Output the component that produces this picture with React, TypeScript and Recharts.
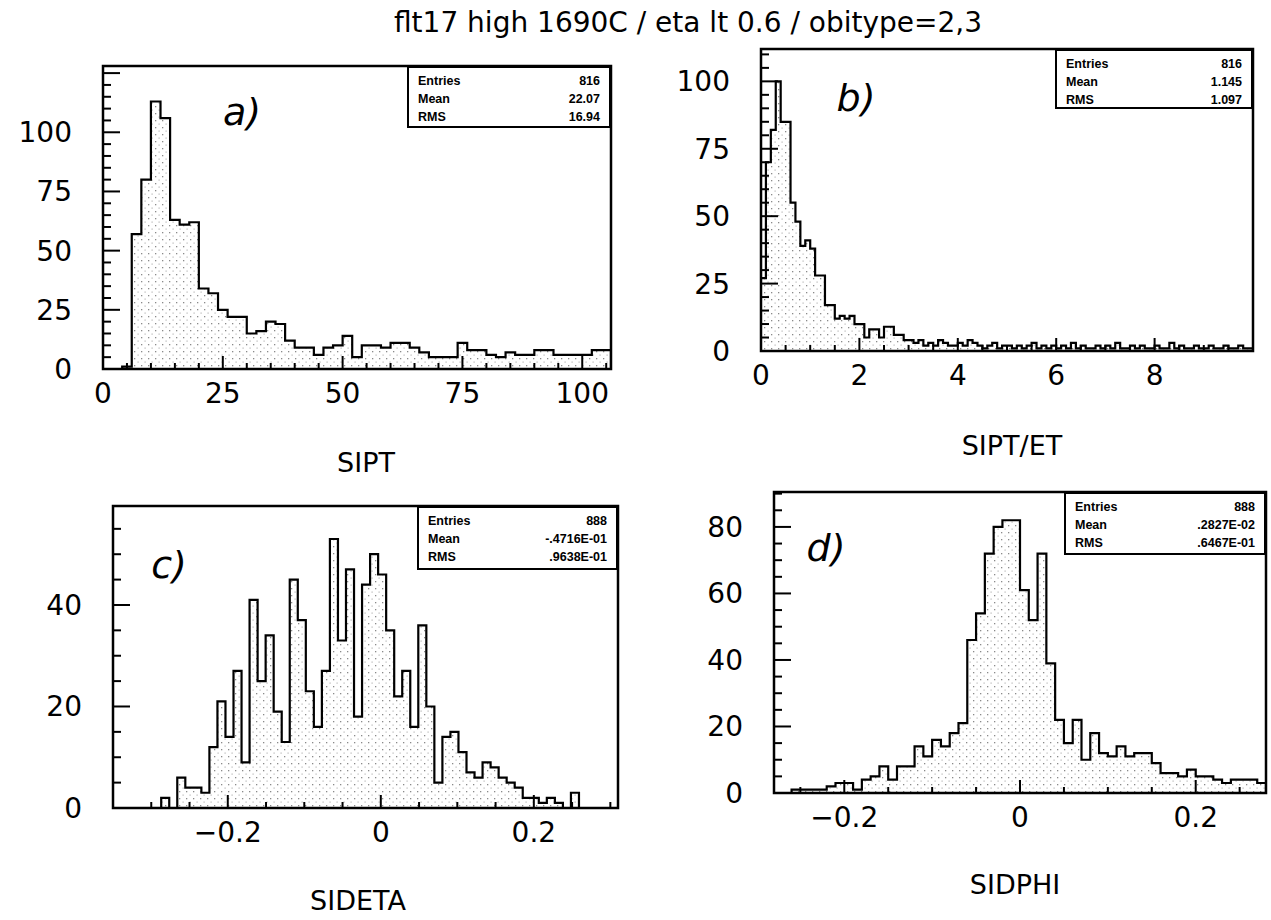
import React from "react";
import { AreaChart, Area, XAxis, YAxis, ReferenceArea } from "recharts";

const FONT = "'DejaVu Sans', sans-serif";
const TITLE = "flt17 high 1690C / eta lt 0.6 / obitype=2,3";

// a) SIPT, bins of width 2 starting at 0
const siptCounts = [
  0, 0, 1, 57, 80, 113, 106, 63, 61, 62, 34, 32, 25, 22, 22, 15, 16, 20, 19, 12,
  9, 9, 6, 9, 10, 14, 5, 10, 10, 9, 11, 11, 9, 7, 5, 5, 5, 11, 8, 8,
  6, 5, 7, 6, 6, 8, 8, 6, 6, 6, 6, 8, 8,
];
// b) SIPT/ET, bins of width 0.1 starting at 0
const siptEtCounts = [
  27, 70, 82, 100, 85, 85, 55, 48, 39, 41, 38, 28, 28, 17, 17, 12, 13, 12, 13, 10,
  10, 5, 8, 8, 5, 9, 9, 6, 6, 4, 4, 3, 4, 2, 3, 2, 4, 3, 2, 2,
  3, 2, 4, 3, 2, 1, 2, 3, 1, 2, 2, 1, 2, 1, 2, 3, 1, 2, 1, 2,
  1, 2, 1, 3, 1, 2, 1, 1, 2, 1, 2, 1, 3, 1, 1, 2, 1, 2, 1, 1,
  2, 1, 1, 3, 1, 2, 1, 1, 2, 1, 1, 2, 1, 1, 2, 1, 1, 2, 1, 1,
];
// c) SIDETA, bins of width 0.0105 starting at -0.35
const sidetaCounts = [
  0, 0, 0, 0, 0, 0, 2, 0, 6, 4, 4, 3, 12, 21, 14, 27, 9, 41, 25, 34,
  19, 13, 45, 37, 23, 16, 27, 53, 33, 47, 18, 44, 50, 46, 35, 22, 27, 16, 36, 20,
  5, 14, 15, 11, 7, 6, 9, 8, 6, 5, 4, 2, 2, 1, 2, 1, 0, 3,
];
// d) SIDPHI, bins of width 0.01 starting at -0.28
const sidphiCounts = [
  0, 0, 1, 1, 1, 1, 2, 3, 3, 1, 4, 5, 8, 4, 8, 8, 14, 11, 16, 14,
  18, 21, 46, 54, 72, 80, 82, 82, 61, 52, 72, 39, 22, 15, 22, 10, 18, 12, 11, 14,
  11, 12, 12, 9, 6, 6, 5, 7, 5, 5, 4, 3, 4, 4, 4, 3,
];

const statsA = [["Entries", "816"], ["Mean", "22.07"], ["RMS", "16.94"]];
const statsB = [["Entries", "816"], ["Mean", "1.145"], ["RMS", "1.097"]];
const statsC = [["Entries", "888"], ["Mean", "-.4716E-01"], ["RMS", ".9638E-01"]];
const statsD = [["Entries", "888"], ["Mean", ".2827E-02"], ["RMS", ".6467E-01"]];

const labelsA = { x: [0, 25, 50, 75, 100], y: [0, 25, 50, 75, 100] };
const labelsB = { x: [0, 2, 4, 6, 8], y: [0, 25, 50, 75, 100] };
const labelsC = { x: [-0.2, 0, 0.2], y: [0, 20, 40] };
const labelsD = { x: [-0.2, 0, 0.2], y: [0, 20, 40, 60, 80] };

const range = (a: number, b: number, s: number) => {
  const out: number[] = [];
  for (let i = 0; a + i * s <= b + 1e-9; i++) out.push(Math.round((a + i * s) * 10000) / 10000);
  return out;
};

const toSteps = (vals: number[], start: number, width: number) => {
  const pts = vals.map((v, i) => ({ x: +(start + i * width).toFixed(5), y: v }));
  pts.push({ x: +(start + vals.length * width).toFixed(5), y: 0 });
  return pts;
};

const has = (arr: number[], v: number) => arr.some((a) => Math.abs(a - v) < 1e-6);
const fmt = (v: number) => (Math.abs(v) < 1e-9 ? "0" : v < 0 ? "\u2212" + Math.abs(v) : String(v));

const YW = 110; // room left of the frame for the y labels

type PanelProps = {
  id: string;
  L: number; T: number; R: number; B: number;
  xDomain: [number, number];
  yMax: number;
  data: { x: number; y: number }[];
  xTicks: number[]; xMajor: number[]; xLabels: number[];
  yTicks: number[]; yMajor: number[]; yLabels: number[];
  stats: string[][];
  box: { left: number; width: number; height: number };
  letter: { text: string; x: number; y: number };
  axisTitle: { text: string; x: number; y: number };
};

const Panel = (p: PanelProps) => {
  const W = p.R - p.L + YW + 10;
  const H = p.B - p.T + 60;

  const xTick = (props: any) => {
    const { x, y, payload } = props;
    const v = payload.value;
    const len = has(p.xMajor, v) ? 13 : 6;
    return (
      <g>
        <line x1={x} y1={y} x2={x} y2={y - len} stroke="#000" strokeWidth={2} />
        {has(p.xLabels, v) && (
          <text x={x} y={y + 34} textAnchor="middle" fontFamily={FONT} fontSize={28} fill="#000">
            {fmt(v)}
          </text>
        )}
      </g>
    );
  };

  const yTick = (props: any) => {
    const { x, y, payload } = props;
    const v = payload.value;
    const len = has(p.yMajor, v) ? 17 : 8;
    return (
      <g>
        <line x1={x} y1={y} x2={x + len} y2={y} stroke="#000" strokeWidth={2} />
        {has(p.yLabels, v) && (
          <text x={x - 31} y={y + 10} textAnchor="end" fontFamily={FONT} fontSize={28} fill="#000">
            {fmt(v)}
          </text>
        )}
      </g>
    );
  };

  return (
    <>
      <div style={{ position: "absolute", left: p.L - YW, top: p.T - 10 }}>
        <AreaChart width={W} height={H} data={p.data} margin={{ top: 10, right: 10, left: 0, bottom: 0 }}>
          <defs>
            <pattern id={`dots-${p.id}`} width="7" height="7" patternUnits="userSpaceOnUse">
              <rect x="1" y="1" width="1.3" height="1.3" fill="#8a8a8a" />
              <rect x="4.5" y="4.5" width="1.2" height="1.2" fill="#b5b5b5" />
            </pattern>
          </defs>
          <XAxis
            dataKey="x"
            type="number"
            domain={p.xDomain}
            ticks={p.xTicks}
            interval={0}
            height={50}
            tickSize={0}
            tickMargin={0}
            axisLine={false}
            tickLine={false}
            tick={xTick}
            allowDataOverflow
          />
          <YAxis
            type="number"
            domain={[0, p.yMax]}
            ticks={p.yTicks}
            interval={0}
            width={YW}
            tickSize={0}
            tickMargin={0}
            axisLine={false}
            tickLine={false}
            tick={yTick}
            allowDataOverflow
          />
          <Area
            dataKey="y"
            type="stepAfter"
            stroke="#000"
            strokeWidth={2.2}
            fill={`url(#dots-${p.id})`}
            fillOpacity={1}
            dot={false}
            activeDot={false}
            isAnimationActive={false}
          />
          <ReferenceArea
            x1={p.xDomain[0]}
            x2={p.xDomain[1]}
            y1={0}
            y2={p.yMax}
            fill="none"
            stroke="#000"
            strokeWidth={2.5}
            ifOverflow="visible"
          />
        </AreaChart>
      </div>
      <div
        style={{
          position: "absolute",
          left: p.box.left,
          top: p.T,
          width: p.box.width,
          height: p.box.height,
          border: "2px solid #000",
          background: "#fff",
          boxSizing: "border-box",
          padding: "4px 9px",
          fontFamily: "'Liberation Sans', Arial, sans-serif",
          fontWeight: 700,
          fontSize: 12.5,
          color: "#000",
        }}
      >
        {p.stats.map(([k, v]) => (
          <div key={k} style={{ display: "flex", justifyContent: "space-between", height: 18, lineHeight: "18px" }}>
            <span>{k}</span>
            <span>{v}</span>
          </div>
        ))}
      </div>
      <div
        style={{
          position: "absolute",
          left: p.letter.x,
          top: p.letter.y,
          transform: "translate(-50%, -50%)",
          fontFamily: FONT,
          fontStyle: "italic",
          fontSize: 38,
          color: "#000",
        }}
      >
        {p.letter.text}
      </div>
      <div
        style={{
          position: "absolute",
          left: p.axisTitle.x,
          top: p.axisTitle.y,
          transform: "translate(-50%, -50%)",
          fontFamily: FONT,
          fontSize: 27,
          color: "#000",
          whiteSpace: "nowrap",
        }}
      >
        {p.axisTitle.text}
      </div>
    </>
  );
};

export default function App() {
  return (
    <div style={{ position: "absolute", left: 0, top: 0, width: 1271, height: 920, background: "#fff", overflow: "hidden" }}>
      <div
        style={{
          position: "absolute",
          left: 688,
          top: 22,
          transform: "translate(-50%, -50%)",
          fontFamily: FONT,
          fontSize: 28,
          whiteSpace: "nowrap",
          color: "#000",
        }}
      >
        {TITLE}
      </div>
      <Panel
        id="a"
        L={103} T={66} R={611} B={369}
        xDomain={[0, 106]}
        yMax={128}
        data={toSteps(siptCounts, 0, 2)}
        xTicks={range(0, 105, 5)} xMajor={[0, 25, 50, 75, 100]} xLabels={labelsA.x}
        yTicks={range(0, 125, 5)} yMajor={[25, 50, 75, 100, 125]} yLabels={labelsA.y}
        stats={statsA}
        box={{ left: 407, width: 204, height: 62 }}
        letter={{ text: "a)", x: 242, y: 112 }}
        axisTitle={{ text: "SIPT", x: 366, y: 462 }}
      />
      <Panel
        id="b"
        L={761} T={49} R={1253} B={351}
        xDomain={[0, 10]}
        yMax={112}
        data={toSteps(siptEtCounts, 0, 0.1)}
        xTicks={range(0, 10, 0.5)} xMajor={[2, 4, 6, 8]} xLabels={labelsB.x}
        yTicks={range(0, 110, 5)} yMajor={[25, 50, 75, 100]} yLabels={labelsB.y}
        stats={statsB}
        box={{ left: 1055, width: 198, height: 60 }}
        letter={{ text: "b)", x: 856, y: 98 }}
        axisTitle={{ text: "SIPT/ET", x: 1012, y: 445 }}
      />
      <Panel
        id="c"
        L={113} T={506} R={618} B={808}
        xDomain={[-0.35, 0.31]}
        yMax={59.5}
        data={toSteps(sidetaCounts, -0.35, 0.0105)}
        xTicks={range(-0.35, 0.3, 0.05)} xMajor={[-0.2, 0, 0.2]} xLabels={labelsC.x}
        yTicks={range(0, 55, 5)} yMajor={[20, 40]} yLabels={labelsC.y}
        stats={statsC}
        box={{ left: 417, width: 201, height: 64 }}
        letter={{ text: "c)", x: 169, y: 565 }}
        axisTitle={{ text: "SIDETA", x: 358, y: 900 }}
      />
      <Panel
        id="d"
        L={774} T={492} R={1266} B={793}
        xDomain={[-0.28, 0.28]}
        yMax={90.5}
        data={toSteps(sidphiCounts, -0.28, 0.01)}
        xTicks={range(-0.25, 0.25, 0.05)} xMajor={[-0.2, 0, 0.2]} xLabels={labelsD.x}
        yTicks={range(0, 90, 5)} yMajor={[20, 40, 60, 80]} yLabels={labelsD.y}
        stats={statsD}
        box={{ left: 1064, width: 202, height: 63 }}
        letter={{ text: "d)", x: 826, y: 548 }}
        axisTitle={{ text: "SIDPHI", x: 1015, y: 884 }}
      />
    </div>
  );
}
